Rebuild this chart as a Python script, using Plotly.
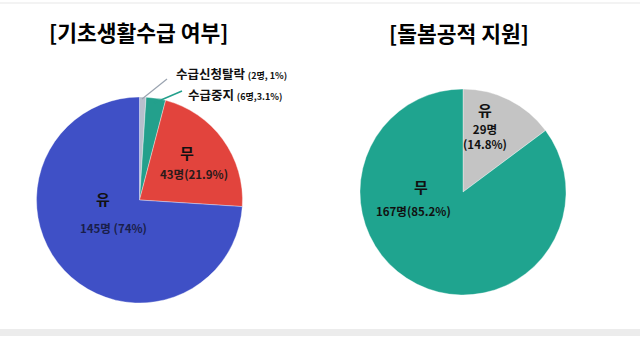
import plotly.graph_objects as go

# Left pie: 기초생활수급 여부
left_labels = ["수급신청탈락", "수급중지", "무", "유"]
left_values = [2, 6, 43, 145]
left_pcts = ["1%", "3.1%", "21.9%", "74%"]
left_colors = ["#b7bfcc", "#23a08c", "#e2443d", "#3f50c6"]

# Right pie: 돌봄공적 지원
right_labels = ["유", "무"]
right_values = [29, 167]
right_pcts = ["14.8%", "85.2%"]
right_colors = ["#c4c4c4", "#1fa48f"]

titles = ["[기초생활수급 여부]", "[돌봄공적 지원]"]

FONT = "Noto Sans CJK KR"
W, H = 640, 346

def px(x):
    return x / W

def py(y):
    return 1 - y / H

fig = go.Figure()
fig.add_trace(go.Pie(
    labels=left_labels, values=left_values, sort=False, direction="clockwise",
    rotation=0, textinfo="none", hoverinfo="label+value",
    marker=dict(colors=left_colors, line=dict(color="rgba(255,255,255,0.6)", width=0.6)),
    domain=dict(x=[px(36), px(243)], y=[py(303), py(97)]), showlegend=False,
))
fig.add_trace(go.Pie(
    labels=right_labels, values=right_values, sort=False, direction="clockwise",
    rotation=0, textinfo="none", hoverinfo="label+value",
    marker=dict(colors=right_colors, line=dict(color="rgba(255,255,255,0.6)", width=0.6)),
    domain=dict(x=[px(360), px(566)], y=[py(295), py(89)]), showlegend=False,
))

ann = []
def add(text, x, y, size, color="#111", bold=True, xanchor="center", weight=None):
    f = dict(family=FONT, size=size, color=color)
    if weight:
        f["weight"] = weight
    ann.append(dict(text=(f"<b>{text}</b>" if bold else text), x=px(x), y=py(y),
                    xref="paper", yref="paper", showarrow=False, xanchor=xanchor,
                    yanchor="middle", font=f))

# titles
add(titles[0], 138, 31, 21.5, color="#000", weight=900)
add(titles[1], 459, 33, 21.5, color="#000", weight=900)

# left pie labels
add(left_labels[2], 187, 153, 15)
add(f"{left_values[2]}명({left_pcts[2]})", 194, 174, 11.5, color="#2a1a1a")
add(left_labels[3], 103, 198, 15)
add(f"{left_values[3]}명 ({left_pcts[3]})", 113, 228, 11.5, color="#1a1f4a")

# callouts
add(f"{left_labels[0]} <span style='font-size:9px'>({left_values[0]}명, {left_pcts[0]})</span>", 174, 73, 12.5, xanchor="left")
add(f"{left_labels[1]} <span style='font-size:9px'>({left_values[1]}명,{left_pcts[1]})</span>", 186, 95, 12.5, xanchor="left")

# right pie labels
add(right_labels[0], 485, 109, 15)
add(f"{right_values[0]}명<br>({right_pcts[0]})", 485, 136, 11.5)
add(right_labels[1], 421, 186, 15)
add(f"{right_values[1]}명({right_pcts[1]})", 413, 211, 11.5)

shapes = [
    dict(type="line", xref="paper", yref="paper", x0=px(142), y0=py(99), x1=px(167), y1=py(79),
         line=dict(color="#9aa3b0", width=1.2)),
    dict(type="line", xref="paper", yref="paper", x0=px(154), y0=py(103), x1=px(182), y1=py(91),
         line=dict(color="#23a08c", width=1.5)),
    dict(type="rect", xref="paper", yref="paper", x0=0, x1=1, y0=py(336), y1=py(329),
         fillcolor="#ececec", line=dict(width=0), layer="below"),
    dict(type="rect", xref="paper", yref="paper", x0=0, x1=1, y0=py(4), y1=py(2),
         fillcolor="#f3f3f3", line=dict(width=0), layer="below"),
]

fig.update_layout(
    width=W, height=H, margin=dict(l=0, r=0, t=0, b=0),
    paper_bgcolor="white", plot_bgcolor="white",
    annotations=ann, shapes=shapes, showlegend=False,
    font=dict(family=FONT),
)
fig.write_html("out.html")
